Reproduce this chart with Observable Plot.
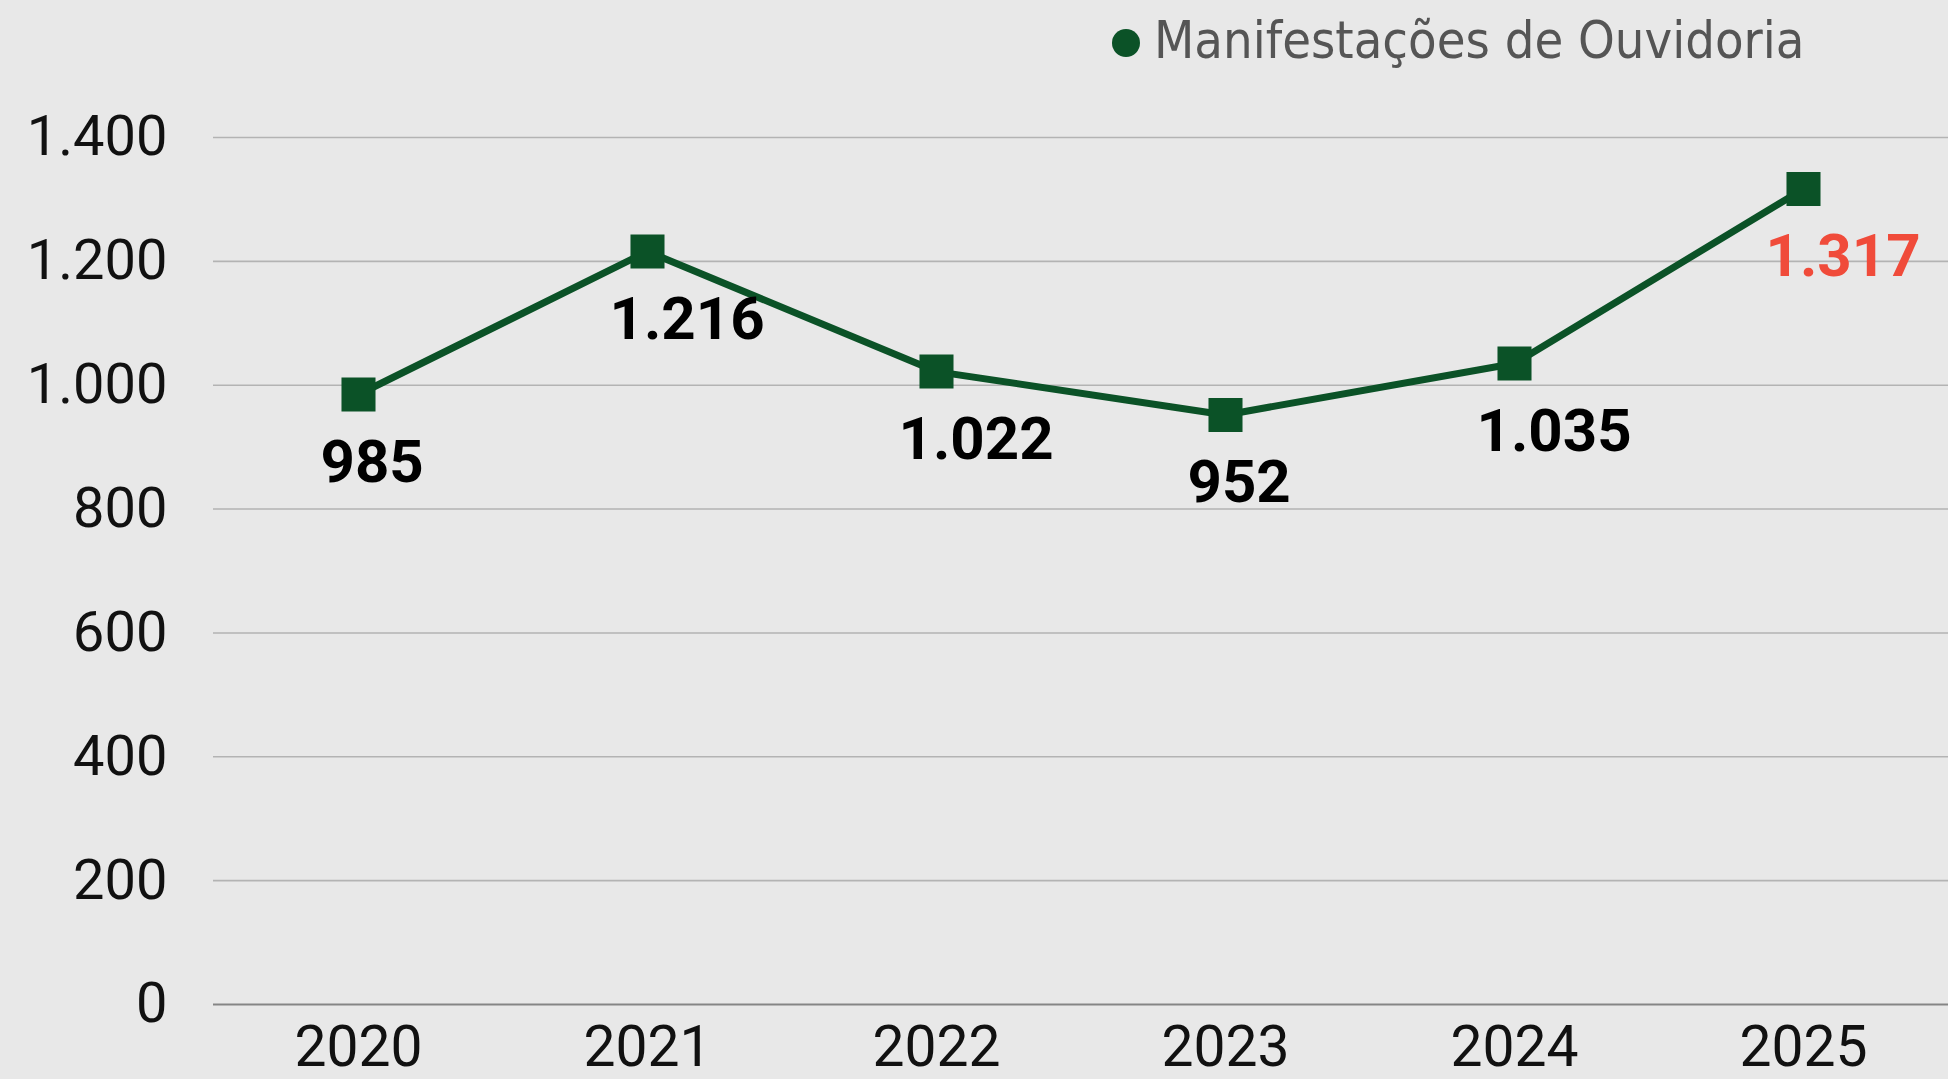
<!DOCTYPE html>
<html>
<head>
<meta charset="utf-8">
<script src="https://cdn.jsdelivr.net/npm/d3@7"></script>
<script src="https://cdn.jsdelivr.net/npm/@observablehq/plot@0.6"></script>
<style>
  html, body { margin: 0; padding: 0; background: #e8e8e8; }
  #wrap { position: relative; width: 1948px; height: 1079px; overflow: hidden; }
  #legend {
    position: absolute; left: 1112px; top: 14px;
    display: flex; align-items: center;
    font-family: "DejaVu Sans Condensed", "DejaVu Sans", sans-serif;
    font-stretch: condensed;
    font-size: 52px; line-height: 1; color: #555555; white-space: nowrap;
  }
  #legend .dot {
    display: inline-block; width: 28px; height: 28px; border-radius: 50%;
    background: #0b5227; margin-right: 14px; margin-top: 6px;
  }
</style>
</head>
<body>
<div id="wrap">
  <div id="chart"></div>
  <div id="legend"><span class="dot"></span><span>Manifestações de Ouvidoria</span></div>
</div>
<script>
// ---- data ----
const years = ["2020", "2021", "2022", "2023", "2024", "2025"];
const values = [985, 1216, 1022, 952, 1035, 1317];
const yTicks = [0, 200, 400, 600, 800, 1000, 1200, 1400];
const seriesName = "Manifestações de Ouvidoria";

const fmt = v => d3.format(",")(v).replace(/,/g, ".");
const data = years.map((y, i) => ({ year: y, value: values[i], last: i === years.length - 1 }));

const green = "#0b5227";
const red = "#f04b3a";

const chart = Plot.plot({
  width: 1948,
  height: 1079,
  marginLeft: 213,
  marginRight: 0,
  marginTop: 137,
  marginBottom: 75,
  style: { background: "#e8e8e8", fontFamily: "Roboto, sans-serif", overflow: "visible" },
  x: { type: "point", domain: years, padding: 0.5 },
  y: { domain: [0, 1400] },
  marks: [
    Plot.gridY(yTicks.filter(t => t > 0), { stroke: "#b3b3b3", strokeOpacity: 1, strokeWidth: 1.6 }),
    Plot.ruleY([0], { stroke: "#858585", strokeWidth: 2.2 }),
    Plot.axisY(yTicks, {
      tickSize: 0, tickPadding: 46, tickFormat: fmt,
      fontSize: 56, fill: "#111", label: null
    }),
    Plot.axisX(years, {
      tickSize: 0, tickPadding: 21, fontSize: 57, fill: "#111", label: null
    }),
    Plot.line(data, { x: "year", y: "value", stroke: green, strokeWidth: 7 }),
    Plot.dot(data, { x: "year", y: "value", symbol: "square", r: 19.2, fill: green, stroke: "none" }),
    Plot.text(data, {
      x: "year", y: "value", text: d => fmt(d.value),
      fill: d => d.last ? red : "#000",
      textAnchor: "start", dx: -38, dy: 68, lineAnchor: "middle",
      fontSize: 60, fontWeight: "bold"
    })
  ]
});
document.getElementById("chart").appendChild(chart);
</script>
</body>
</html>
